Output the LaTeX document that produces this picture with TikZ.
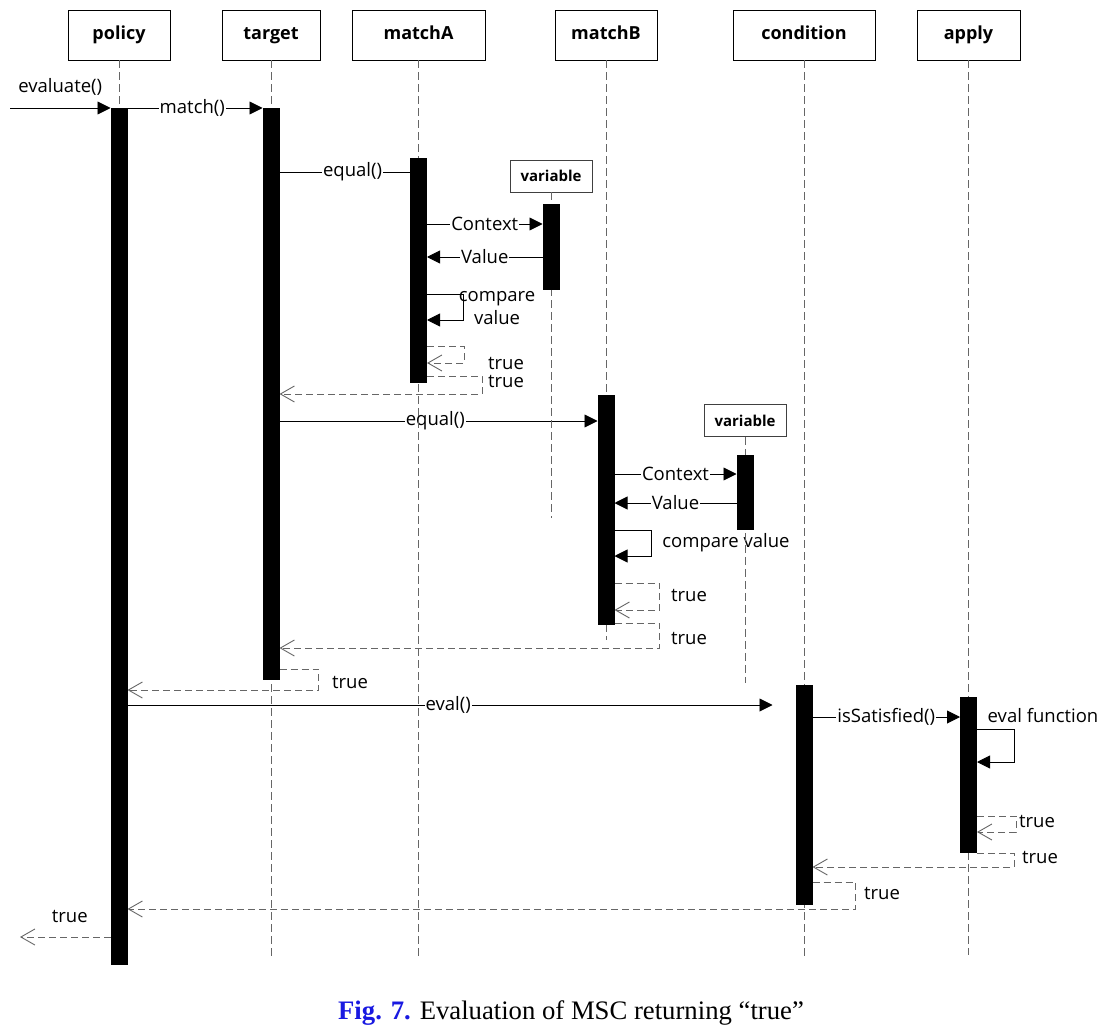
\documentclass[tikz,border=0pt]{standalone}
\usepackage{fontspec}
\setmainfont{Open Sans}
\newfontfamily\capfont{Liberation Serif}
\usepackage{xcolor}
\usetikzlibrary{arrows.meta}

\definecolor{lifegray}{gray}{0.4}
\definecolor{figblue}{RGB}{25,25,225}

\begin{document}
\begin{tikzpicture}[
  x=1pt, y=-1pt,
  head/.style={rectangle, draw, line width=0.9pt, minimum height=50pt,
               font=\fontsize{18}{20}\selectfont\bfseries, inner sep=0pt,
               text height=1.1em, text depth=0.22em},
  varhead/.style={rectangle, draw=black!75, line width=0.8pt,
                  minimum width=82pt, minimum height=32pt,
                  font=\fontsize{15}{16}\selectfont\bfseries, inner sep=0pt},
  actbar/.style={rectangle, fill=black, minimum width=17pt, inner sep=0pt, anchor=north},
  life/.style={draw=lifegray, line width=0.9pt, dash pattern=on 8pt off 4pt},
  msg/.style={draw, line width=0.9pt, -{Triangle[length=13pt,width=13pt]}},
  call/.style={draw, line width=0.9pt},
  ret/.style={draw=lifegray, line width=0.9pt, dash pattern=on 7pt off 4pt,
              -{Straight Barb[length=14pt,width=16pt,line width=0.9pt]}},
  lbl/.style={font=\fontsize{18.5}{22}\selectfont, fill=white, inner xsep=1pt, inner ysep=0pt},
  txt/.style={font=\fontsize{18.5}{23}\selectfont, inner sep=0pt}
]
\useasboundingbox (0,0) rectangle (1118,1032);

% Object heads
\node[head, minimum width=102pt] (policy)    at (119,35)   {policy};
\node[head, minimum width=98pt]  (target)    at (271,35)   {target};
\node[head, minimum width=133pt] (matchA)    at (418.5,35) {matchA};
\node[head, minimum width=102pt] (matchB)    at (606,35)   {matchB};
\node[head, minimum width=142pt] (condition) at (804,35)   {condition};
\node[head, minimum width=103pt] (apply)     at (968.5,35) {apply};
\node[varhead] (varA) at (551,176)   {variable};
\node[varhead] (varB) at (745,420.5) {variable};

% Messages of the first match
\coordinate (entry) at (10,108);
\draw[msg] (entry) -- node[font=\fontsize{18.5}{22}\selectfont, inner sep=0pt,
                           above=12pt] {evaluate()} ([xshift=-8.5pt]policy.south |- entry);
\draw[msg] (policy.south |- entry) ++(8.5,0) -- node[lbl, pos=0.48] {match()}
           ([xshift=-8.5pt]target.south |- entry);
\draw[call] (target.south |- 0,172) ++(8.5,0) -- node[lbl, pos=0.56] {equal()}
            ([xshift=-8.5pt]matchA.south |- 0,172);
\draw[msg] ([xshift=8.5pt]matchA.south |- 0,224) -- node[lbl] {Context}
           ([xshift=-8.5pt]varA.south |- 0,224);
\draw[msg] ([xshift=-8.5pt]varA.south |- 0,257) -- node[lbl] {Value}
           ([xshift=8.5pt]matchA.south |- 0,257);
\draw[msg] ([xshift=8.5pt]matchA.south |- 0,294) -- ++(36,0)
           |- ([xshift=8.5pt]matchA.south |- 0,320);
\node[txt, align=center] (cmpA) at (497,308) {compare\\value};
\draw[ret] ([xshift=8.5pt]matchA.south |- 0,346) -- ++(37,0)
           |- ([xshift=8.5pt]matchA.south |- 0,363);
\node[txt] (trueA1) at (506,363) {true};
\draw[ret] ([xshift=8.5pt]matchA.south |- 0,376) -- ++(55,0)
           |- ([xshift=8.5pt]target.south |- 0,394);
\node[txt] (trueA2) at (506,381) {true};

% Messages of the second match
\draw[msg] (target.south |- 0,421) ++(8.5,0) -- node[lbl, pos=0.49] {equal()}
           ([xshift=-8.5pt]matchB.south |- 0,421);
\draw[msg] ([xshift=8.5pt]matchB.south |- 0,474) -- node[lbl] {Context}
           ([xshift=-8.5pt]varB.south |- 0,474);
\draw[msg] ([xshift=-8.5pt]varB.south |- 0,503) -- node[lbl] {Value}
           ([xshift=8.5pt]matchB.south |- 0,503);
\draw[msg] ([xshift=8.5pt]matchB.south |- 0,530) -- ++(37,0)
           |- ([xshift=8.5pt]matchB.south |- 0,556);
\node[txt] (cmpB) at (726,543) {compare value};
\draw[ret] ([xshift=8.5pt]matchB.south |- 0,583) -- ++(45,0)
           |- ([xshift=8.5pt]matchB.south |- 0,610);
\node[txt] (trueB1) at (689,595) {true};
\draw[ret] ([xshift=8.5pt]matchB.south |- 0,623) -- ++(45,0)
           |- ([xshift=8.5pt]target.south |- 0,648);
\node[txt] (trueB2) at (689,638) {true};
\draw[ret] ([xshift=8.5pt]target.south |- 0,669) -- ++(39,0)
           |- ([xshift=8.5pt]policy.south |- 0,690);
\node[txt] (trueT) at (350,682) {true};

% Condition and apply
\draw[msg, shorten >=23pt] ([xshift=8.5pt]policy.south |- 0,705) -- node[lbl, pos=0.48] {eval()}
           ([xshift=-8.5pt]condition.south |- 0,705);
\draw[msg] ([xshift=8.5pt]condition.south |- 0,717) -- node[lbl] {isSatisfied()}
           ([xshift=-8.5pt]apply.south |- 0,717);
\draw[msg] ([xshift=8.5pt]apply.south |- 0,729) -- ++(37,0)
           |- ([xshift=8.5pt]apply.south |- 0,762);
\node[txt] (evalfn) at (1043,716) {eval function};
\draw[ret] ([xshift=8.5pt]apply.south |- 0,816) -- ++(39,0)
           |- ([xshift=8.5pt]apply.south |- 0,832);
\node[txt] (trueY1) at (1037,821) {true};
\draw[ret] ([xshift=8.5pt]apply.south |- 0,853) -- ++(37,0)
           |- ([xshift=8.5pt]condition.south |- 0,867);
\node[txt] (trueY2) at (1040,857) {true};
\draw[ret] ([xshift=8.5pt]condition.south |- 0,882) -- ++(43,0)
           |- ([xshift=8.5pt]policy.south |- 0,909);
\node[txt] (trueC) at (882,893) {true};
\coordinate (exit) at (20,937);
\draw[ret] ([xshift=-8.5pt]policy.south |- exit) -- node[font=\fontsize{18.5}{22}\selectfont,
           inner sep=0pt, above=14pt, pos=0.45] {true} (exit);

% Lifelines
\draw[life] (policy.south) -- (policy.south |- 0,960);
\draw[life] (target.south) -- (target.south |- 0,960);
\draw[life] (matchA.south) -- (matchA.south |- 0,960);
\draw[life] (matchB.south) -- (matchB.south |- 0,640);
\draw[life] (condition.south) -- (condition.south |- 0,960);
\draw[life] (apply.south) -- (apply.south |- 0,955);
\draw[life] (varA.south) -- (varA.south |- 0,518);
\draw[life] (varB.south) -- (varB.south |- 0,683);

% Activation bars
\node[actbar, minimum height=857pt] (pBar) at (policy.south |- 0,108) {};
\node[actbar, minimum height=572pt] (tBar) at (target.south |- 0,108) {};
\node[actbar, minimum height=225pt] (aBar) at (matchA.south |- 0,158) {};
\node[actbar, minimum height=86pt]  (vaBar) at (varA.south |- 0,204) {};
\node[actbar, minimum height=230pt] (bBar) at (matchB.south |- 0,395) {};
\node[actbar, minimum height=75pt]  (vbBar) at (varB.south |- 0,455) {};
\node[actbar, minimum height=220pt] (cBar) at (condition.south |- 0,685) {};
\node[actbar, minimum height=156pt] (yBar) at (apply.south |- 0,697) {};

% Caption
\node[font=\capfont\fontsize{26.7}{30}\selectfont, inner sep=0pt] (caption) at (571,1013)
  {\textcolor{figblue}{\textbf{Fig. 7.}} Evaluation of MSC returning “true”};
\end{tikzpicture}
\end{document}
